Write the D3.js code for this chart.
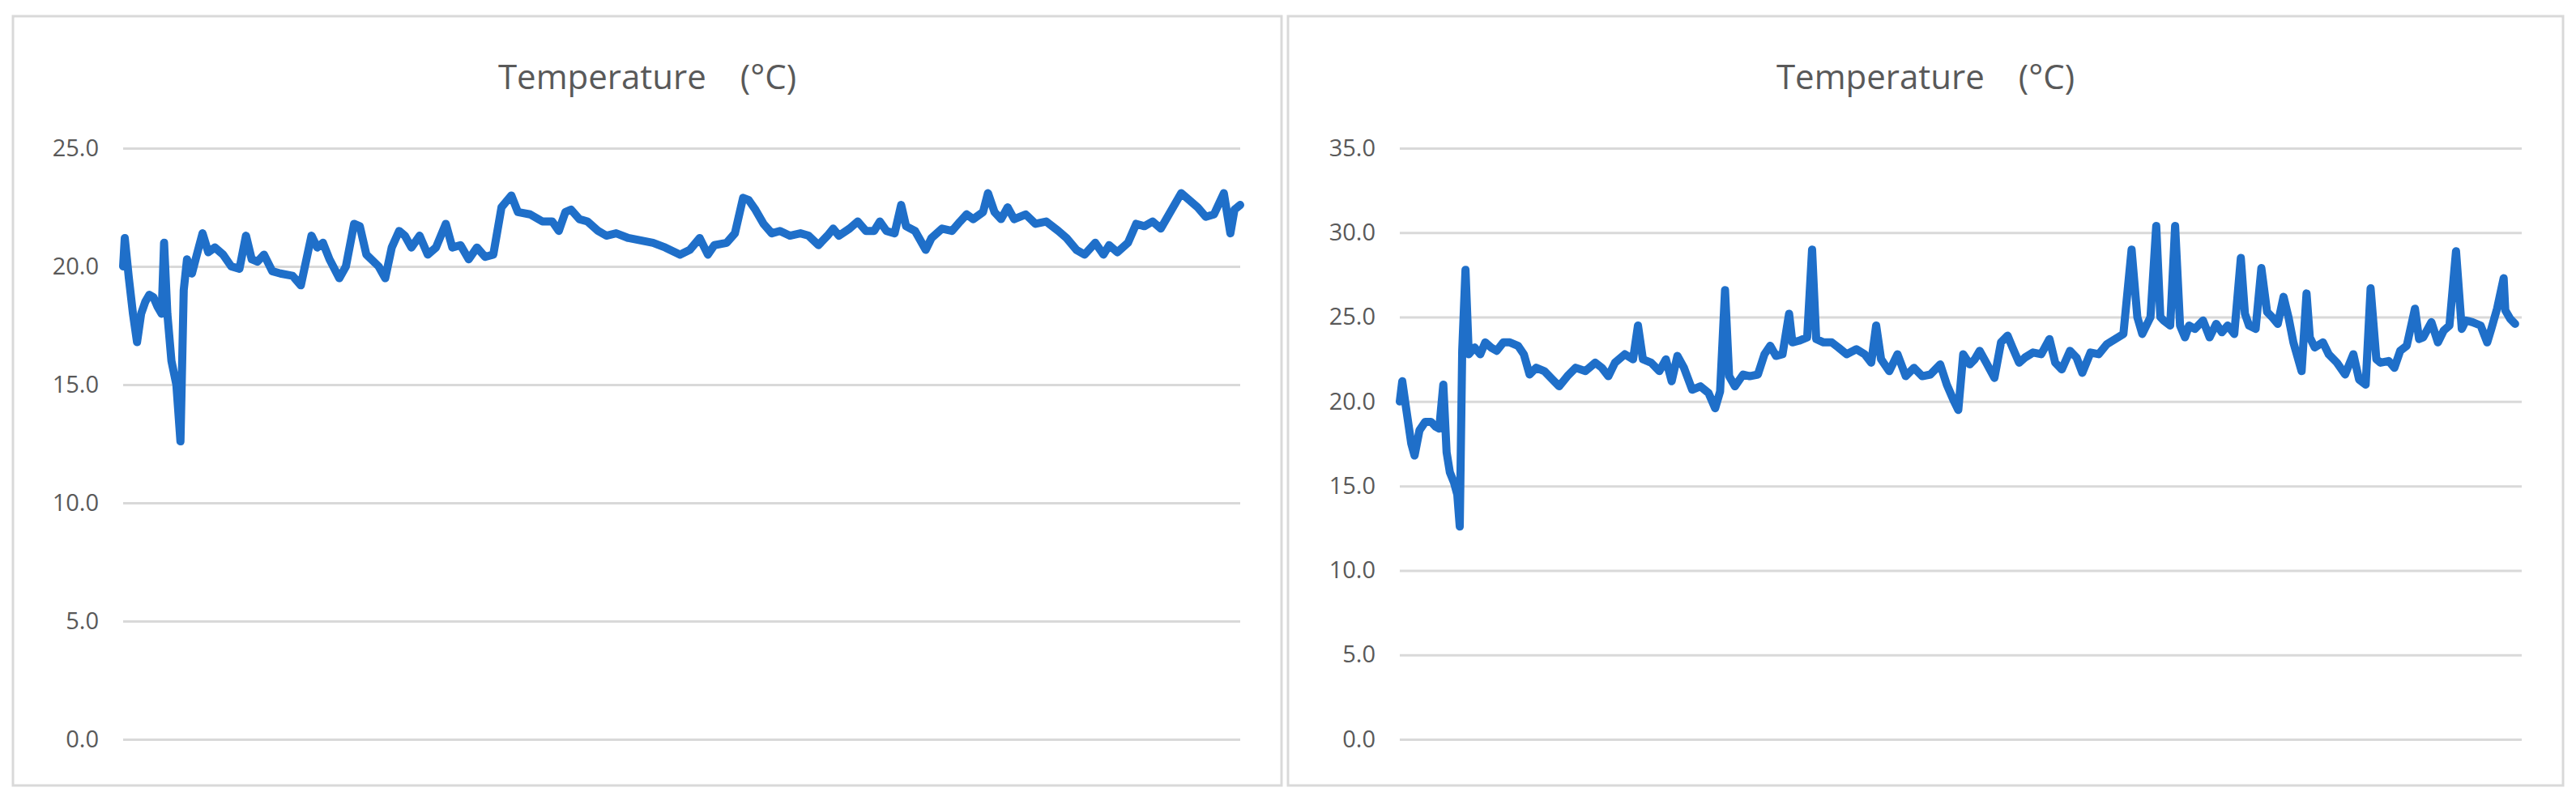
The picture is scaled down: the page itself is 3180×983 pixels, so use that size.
<!DOCTYPE html>
<html>
<head>
<meta charset="utf-8">
<script src="https://cdn.jsdelivr.net/npm/d3@7"></script>
<style>
  body { margin: 0; background: #fff; }
  svg text { font-family: "Open Sans", "Noto Sans", sans-serif; fill: #595959; }
</style>
</head>
<body>
<div id="chart"></div>
<script>
// Sample positions (logger reading index) and temperatures
const leftT = [0,2,7,12,17,22,27,32,37,42,47,50,54,59,65,70,74,78,84,90,97,104,112,122,132,142,150,157,164,172,182,192,207,217,230,237,244,252,264,272,282,289,297,312,320,328,337,344,352,362,372,382,394,402,412,422,432,442,452,462,474,482,497,512,524,532,540,547,557,567,580,590,602,617,632,647,662,680,692,704,714,722,737,747,757,764,772,782,792,802,814,827,837,849,860,867,874,887,897,907,917,924,932,942,950,956,967,980,987,1000,1012,1022,1030,1038,1050,1056,1064,1072,1080,1088,1102,1114,1127,1142,1152,1164,1174,1187,1197,1204,1214,1227,1237,1247,1257,1267,1277,1292,1302,1312,1322,1332,1344,1352,1357,1364];
const leftV = [20,21.2,19.5,18,16.8,18,18.5,18.8,18.7,18.3,18,21,18,16,15,12.6,19,20.3,19.7,20.5,21.4,20.6,20.8,20.5,20,19.9,21.3,20.3,20.2,20.5,19.8,19.7,19.6,19.2,21.3,20.8,21,20.3,19.5,20,21.8,21.7,20.5,20,19.5,20.8,21.5,21.3,20.8,21.3,20.5,20.8,21.8,20.8,20.9,20.3,20.8,20.4,20.5,22.5,23,22.3,22.2,21.9,21.9,21.5,22.3,22.4,22,21.9,21.5,21.3,21.4,21.2,21.1,21,20.8,20.5,20.7,21.2,20.5,20.9,21,21.4,22.9,22.8,22.4,21.8,21.4,21.5,21.3,21.4,21.3,20.9,21.3,21.6,21.3,21.6,21.9,21.5,21.5,21.9,21.5,21.4,22.6,21.7,21.5,20.7,21.2,21.6,21.5,21.9,22.2,22,22.3,23.1,22.3,22,22.5,22,22.2,21.8,21.9,21.5,21.2,20.7,20.5,21,20.5,20.9,20.6,21,21.8,21.7,21.9,21.6,22.2,23.1,22.8,22.5,22.1,22.2,23.1,21.4,22.4,22.6];

const rightT = [0,3,8,14,18,24,31,38,44,48,53,57,61,66,70,73,76,80,84,91,98,104,111,118,126,134,144,151,158,166,176,186,194,204,214,226,238,246,254,262,274,284,290,296,306,316,324,331,338,346,356,366,376,384,390,396,401,408,418,426,436,444,451,458,466,474,478,486,496,502,507,516,526,534,544,556,566,574,580,586,596,606,616,626,636,646,658,666,674,680,686,694,700,706,714,724,732,740,746,754,761,771,781,791,798,806,816,824,831,841,851,861,871,881,891,898,904,914,921,926,930,938,944,950,956,961,968,978,986,994,1001,1008,1016,1024,1029,1034,1042,1049,1056,1062,1069,1076,1082,1088,1098,1104,1108,1114,1124,1131,1141,1151,1161,1168,1176,1182,1189,1194,1204,1211,1218,1226,1236,1241,1246,1256,1264,1271,1278,1286,1293,1298,1306,1316,1324,1329,1336,1344,1346,1352,1358,1366];
const rightV = [20,21.2,19.5,17.5,16.8,18.3,18.8,18.8,18.5,18.4,21,17,15.8,15.2,14.5,12.6,23,27.8,22.8,23.2,22.8,23.5,23.2,23,23.5,23.5,23.3,22.8,21.6,22,21.8,21.3,20.9,21.5,22,21.8,22.3,22,21.5,22.3,22.8,22.5,24.5,22.5,22.3,21.8,22.5,21.2,22.7,22,20.7,20.9,20.5,19.6,20.6,26.6,21.5,20.9,21.6,21.5,21.6,22.8,23.3,22.7,22.8,25.2,23.5,23.6,23.8,29,23.7,23.5,23.5,23.2,22.8,23.1,22.8,22.3,24.5,22.5,21.8,22.8,21.5,22,21.5,21.6,22.2,21,20.1,19.5,22.8,22.2,22.5,23,22.3,21.4,23.5,23.9,23.2,22.3,22.6,22.9,22.8,23.7,22.3,21.9,23,22.6,21.7,22.9,22.8,23.4,23.7,24,29,25,24,25,30.4,25,24.8,24.5,30.4,24.5,23.8,24.5,24.3,24.8,23.8,24.6,24.1,24.5,24,28.5,25.2,24.5,24.3,27.9,25.3,25,24.6,26.2,25,23.5,21.8,26.4,23.8,23.2,23.5,22.8,22.3,21.6,22.8,21.3,21,26.7,22.5,22.3,22.4,22,23,23.3,25.5,23.7,23.8,24.7,23.5,24.2,24.5,28.9,24.3,24.8,24.7,24.5,23.5,24.3,25.5,27.3,25.4,24.9,24.6];

const title = "Temperature\u3000(°C)";
const leftTicks = [0, 5, 10, 15, 20, 25];
const rightTicks = [0, 5, 10, 15, 20, 25, 30, 35];

const W = 3180, H = 983;
const svg = d3.select("#chart").append("svg").attr("width", W).attr("height", H);

// Draw one bordered panel with its own axis and line
function drawPanel(box, plot, t, v, ticks) {
  const g = svg.append("g");

  g.append("rect")
    .attr("x", box.x).attr("y", box.y)
    .attr("width", box.w).attr("height", box.h)
    .attr("fill", "#fff").attr("stroke", "#d9d9d9").attr("stroke-width", 3);

  g.append("text")
    .attr("x", box.x + box.w / 2).attr("y", 110)
    .attr("text-anchor", "middle")
    .style("font-size", "42px")
    .text(title);

  const x = d3.scaleLinear().domain(d3.extent(t)).range([plot.x0, plot.x1]);
  const y = d3.scaleLinear().domain(d3.extent(ticks)).range([plot.y1, plot.y0]);

  const axis = d3.axisLeft(y).tickValues(ticks).tickSize(-(plot.x1 - plot.x0))
    .tickFormat(d3.format(".1f")).tickPadding(30);

  const ax = g.append("g").attr("transform", `translate(${plot.x0},0)`).call(axis);
  ax.select(".domain").remove();
  ax.selectAll(".tick line").attr("stroke", "#d9d9d9").attr("stroke-width", 3);
  ax.selectAll(".tick text").style("font-size", "29px").attr("fill", "#595959");

  const line = d3.line().x((d, i) => x(t[i])).y(d => y(d));

  g.append("path")
    .datum(v)
    .attr("d", line)
    .attr("fill", "none")
    .attr("stroke", "#1f6fc9")
    .attr("stroke-width", 10)
    .attr("stroke-linejoin", "round")
    .attr("stroke-linecap", "round");
}

drawPanel({ x: 16, y: 20, w: 1566, h: 950 }, { x0: 152, x1: 1531, y0: 183, y1: 913 }, leftT, leftV, leftTicks);
drawPanel({ x: 1590, y: 20, w: 1574, h: 950 }, { x0: 1728, x1: 3113, y0: 183, y1: 913 }, rightT, rightV, rightTicks);
</script>
</body>
</html>
